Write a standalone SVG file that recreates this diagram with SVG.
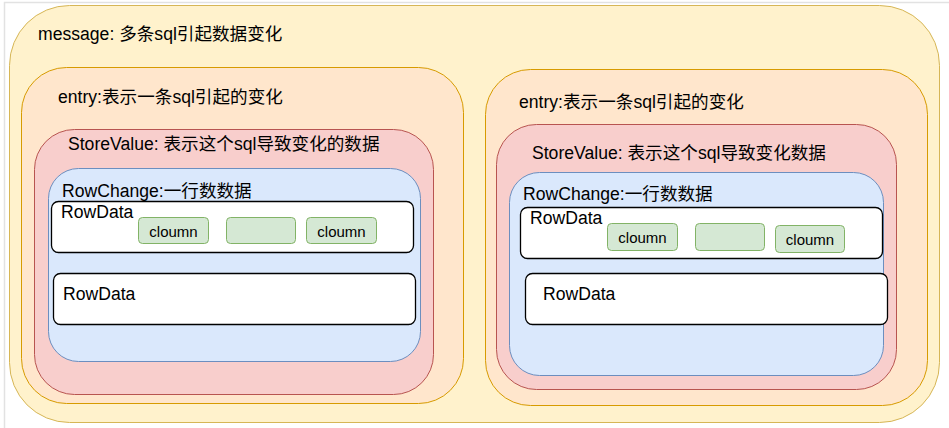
<svg xmlns="http://www.w3.org/2000/svg" width="949" height="428" viewBox="0 0 949 428">
<style>
text{font-family:"Liberation Sans","Noto Sans CJK SC",Arial,sans-serif;fill:#000;}
.t{font-size:17.6px;}
.c{font-size:15px;text-anchor:middle;}
.msg{fill:#fff2cc;stroke:#d6b656;stroke-width:1;}
.ent{fill:#ffe6cc;stroke:#d79b00;stroke-width:1;}
.sv{fill:#f8cecc;stroke:#b85450;stroke-width:1;}
.rc{fill:#dae8fc;stroke:#6c8ebf;stroke-width:1;}
.rd{fill:#ffffff;stroke:#000000;stroke-width:1.3;}
.col{fill:#d5e8d4;stroke:#82b366;stroke-width:1;}
</style>
<rect x="0" y="0" width="949" height="428" fill="#ffffff"/>
<path d="M4.5 428V2.5H949" fill="none" stroke="#e2e2e2" stroke-width="1.5"/>
<g id="message">
<rect class="msg" x="9.5" y="5.5" width="930" height="417" rx="60" ry="60"/>
<text class="t" x="38" y="40">message: 多条sql引起数据变化</text>
</g>
<g id="entry-left">
<rect class="ent" x="21.5" y="67.5" width="442" height="336" rx="45" ry="45"/>
<text class="t" x="58" y="103">entry:表示一条sql引起的变化</text>
</g>
<g id="storevalue-left">
<rect class="sv" x="34.5" y="129.5" width="399" height="265" rx="40" ry="40"/>
<text class="t" x="68" y="150">StoreValue: 表示这个sql导致变化的数据</text>
</g>
<g id="rowchange-left">
<rect class="rc" x="48.5" y="168.5" width="372" height="193" rx="30" ry="30"/>
<text class="t" x="62" y="197">RowChange:一行数数据</text>
</g>
<g id="rowdata-left-1">
<rect class="rd" x="51.5" y="201.5" width="362" height="51" rx="7" ry="7"/>
<text class="t" x="61" y="218">RowData</text>
</g>
<g id="column-left-1">
<rect class="col" x="138.5" y="217.5" width="70" height="26" rx="4" ry="4"/>
<text class="c" x="173.5" y="237">cloumn</text>
</g>
<g id="column-left-2">
<rect class="col" x="226.5" y="217.5" width="69" height="26" rx="4" ry="4"/>
</g>
<g id="column-left-3">
<rect class="col" x="306.5" y="217.5" width="70" height="26" rx="4" ry="4"/>
<text class="c" x="341.5" y="237">cloumn</text>
</g>
<g id="rowdata-left-2">
<rect class="rd" x="53.5" y="273.5" width="362" height="51" rx="7" ry="7"/>
<text class="t" x="63" y="300">RowData</text>
</g>
<g id="entry-right">
<rect class="ent" x="485.5" y="69.5" width="442" height="336" rx="45" ry="45"/>
<text class="t" x="519" y="108">entry:表示一条sql引起的变化</text>
</g>
<g id="storevalue-right">
<rect class="sv" x="496.5" y="124.5" width="400" height="265" rx="40" ry="40"/>
<text class="t" x="532" y="159">StoreValue: 表示这个sql导致变化数据</text>
</g>
<g id="rowchange-right">
<rect class="rc" x="509.5" y="172.5" width="374" height="203" rx="30" ry="30"/>
<text class="t" x="523" y="200">RowChange:一行数数据</text>
</g>
<g id="rowdata-right-1">
<rect class="rd" x="520.5" y="207.5" width="362" height="51" rx="7" ry="7"/>
<text class="t" x="530" y="224">RowData</text>
</g>
<g id="column-right-1">
<rect class="col" x="607.5" y="223.5" width="70" height="27" rx="4" ry="4"/>
<text class="c" x="642.5" y="243">cloumn</text>
</g>
<g id="column-right-2">
<rect class="col" x="695.5" y="223.5" width="69" height="27" rx="4" ry="4"/>
</g>
<g id="column-right-3">
<rect class="col" x="775.5" y="225.5" width="69" height="27" rx="4" ry="4"/>
<text class="c" x="810" y="245">cloumn</text>
</g>
<g id="rowdata-right-2">
<rect class="rd" x="525.5" y="273.5" width="362" height="51" rx="7" ry="7"/>
<text class="t" x="543" y="300">RowData</text>
</g>
<g id="connectors"></g>
</svg>
